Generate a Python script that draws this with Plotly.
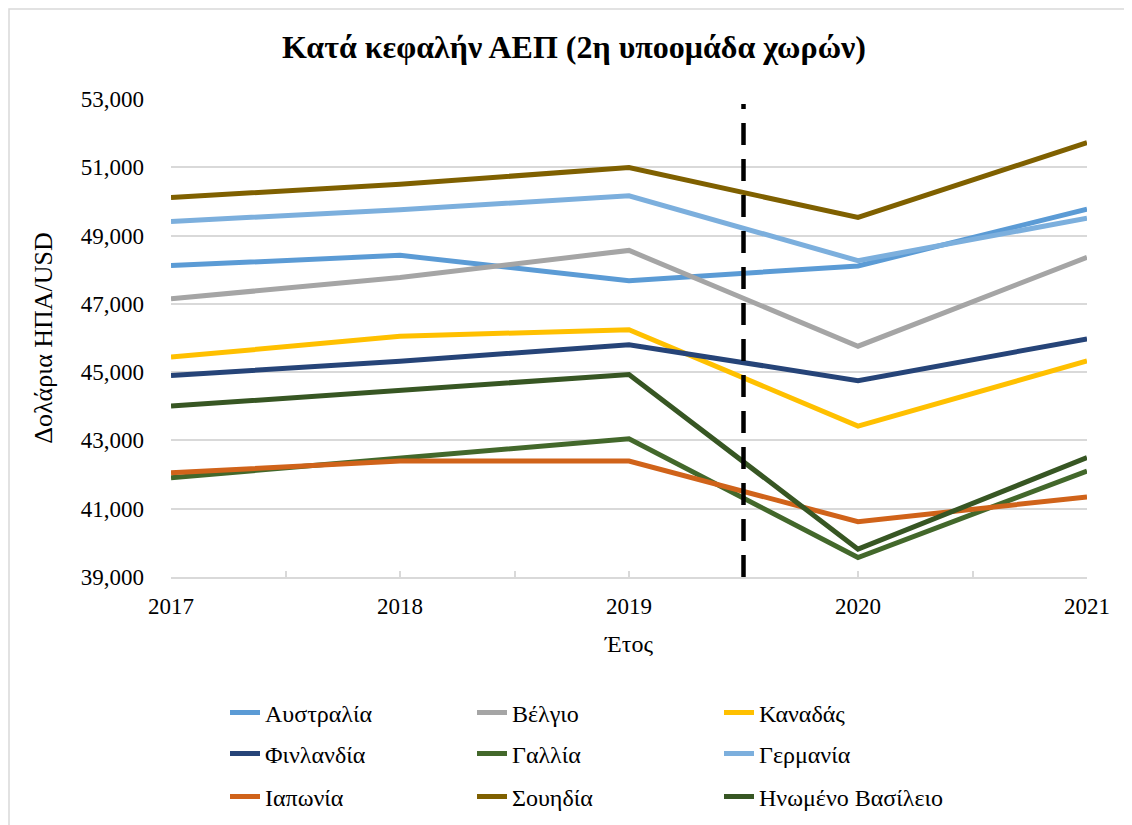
import plotly.graph_objects as go

years = [2017, 2018, 2019, 2020, 2021]

countries = ["Αυστραλία", "Βέλγιο", "Καναδάς",
             "Φινλανδία", "Γαλλία", "Γερμανία",
             "Ιαπωνία", "Σουηδία", "Ηνωμένο Βασίλειο"]

australia = [48120, 48420, 47680, 48110, 49775]
belgium = [47150, 47770, 48565, 45760, 48360]
canada = [45440, 46050, 46245, 43420, 45330]
finland = [44900, 45320, 45805, 44750, 45975]
france = [41910, 42495, 43050, 39570, 42105]
germany = [49415, 49755, 50165, 48265, 49510]
japan = [42055, 42395, 42395, 40620, 41345]
sweden = [50115, 50505, 50990, 49530, 51720]
uk = [44005, 44470, 44930, 39815, 42495]

series_values = [australia, belgium, canada, finland, france, germany, japan, sweden, uk]

colors = ["#5B9BD5", "#A5A5A5", "#FFC000",
          "#264478", "#43682B", "#7CAFDD",
          "#D0631A", "#7F6000", "#375623"]

legend_rows = ["legend", "legend", "legend",
               "legend2", "legend2", "legend2",
               "legend3", "legend3", "legend3"]

y_ticks = [39000, 41000, 43000, 45000, 47000, 49000, 51000, 53000]
boundary_year = 2019.5
boundary_top = 52850

FONT = "Liberation Serif, Times New Roman, serif"

# page body has an 8px margin: compensate so the plot lands where the reference has it
OFF = 8
L, R, T, B = 171 - OFF, 1132 - 1087 + OFF, 99 - OFF, 825 - 577 + OFF
PW, PH = 1132 - L - R, 825 - T - B


def px_x(sx):
    return (sx - OFF - L) / PW


def px_y(sy):
    return (825 - B - (sy - OFF)) / PH


fig = go.Figure()
for name, vals, col, lg in zip(countries, series_values, colors, legend_rows):
    fig.add_trace(go.Scatter(
        x=years, y=vals, name=name, mode="lines",
        line=dict(color=col, width=5),
        legend=lg,
    ))

fig.add_shape(type="line", xref="x", yref="y",
              x0=boundary_year, x1=boundary_year, y0=y_ticks[0], y1=boundary_top,
              line=dict(color="black", width=4.5, dash="22px,14px"))

# outer frame
fig.add_shape(type="rect", xref="paper", yref="paper",
              x0=px_x(9), x1=px_x(1150), y0=px_y(840), y1=px_y(9),
              line=dict(color="#D9D9D9", width=1.5), layer="below")

legend_common = dict(orientation="h", entrywidth=202, entrywidthmode="pixels",
                     font=dict(family=FONT, size=24, color="black"),
                     x=px_x(225), xanchor="left", yanchor="middle",
                     bgcolor="rgba(0,0,0,0)", itemclick=False)

fig.update_layout(
    width=1132, height=825,
    margin=dict(l=L, r=R, t=T, b=B),
    paper_bgcolor="white", plot_bgcolor="white",
    font=dict(family=FONT, size=23, color="black"),
    title=dict(text="<b>Κατά κεφαλήν ΑΕΠ (2η υποομάδα χωρών)</b>",
               x=0.5, xanchor="center", y=1 - (47 - OFF) / 825, yanchor="middle",
               font=dict(family=FONT, size=32, color="black")),
    legend=dict(**legend_common, y=px_y(713)),
    legend2=dict(**legend_common, y=px_y(754)),
    legend3=dict(**legend_common, y=px_y(797)),
    showlegend=True,
)

fig.update_xaxes(
    range=[years[0], years[-1]], tickmode="array", tickvals=years,
    ticktext=[str(y) for y in years],
    showgrid=False, zeroline=False,
    showline=True, linecolor="#D9D9D9", linewidth=1.5,
    ticks="inside", ticklen=6, tickcolor="#D9D9D9", tickwidth=1.5,
    minor=dict(dtick=0.5, tick0=2017, ticks="inside", ticklen=6,
               tickcolor="#D9D9D9", tickwidth=1.5, showgrid=False),
    tickfont=dict(family=FONT, size=23, color="black"),
    ticklabelstandoff=8,
    title=dict(text="Έτος", font=dict(family=FONT, size=24, color="black"), standoff=17),
)

fig.update_yaxes(
    range=[y_ticks[0], y_ticks[-1]], tickmode="array", tickvals=y_ticks,
    ticktext=[f"{v:,}" for v in y_ticks],
    showgrid=True, gridcolor="#D9D9D9", gridwidth=1.5,
    zeroline=False, showline=False, ticks="",
    tickfont=dict(family=FONT, size=23, color="black"),
    ticklabelstandoff=26,
    title=dict(text="Δολάρια ΗΠΑ/USD", font=dict(family=FONT, size=26, color="black"), standoff=20),
)

fig.write_html("out.html")
